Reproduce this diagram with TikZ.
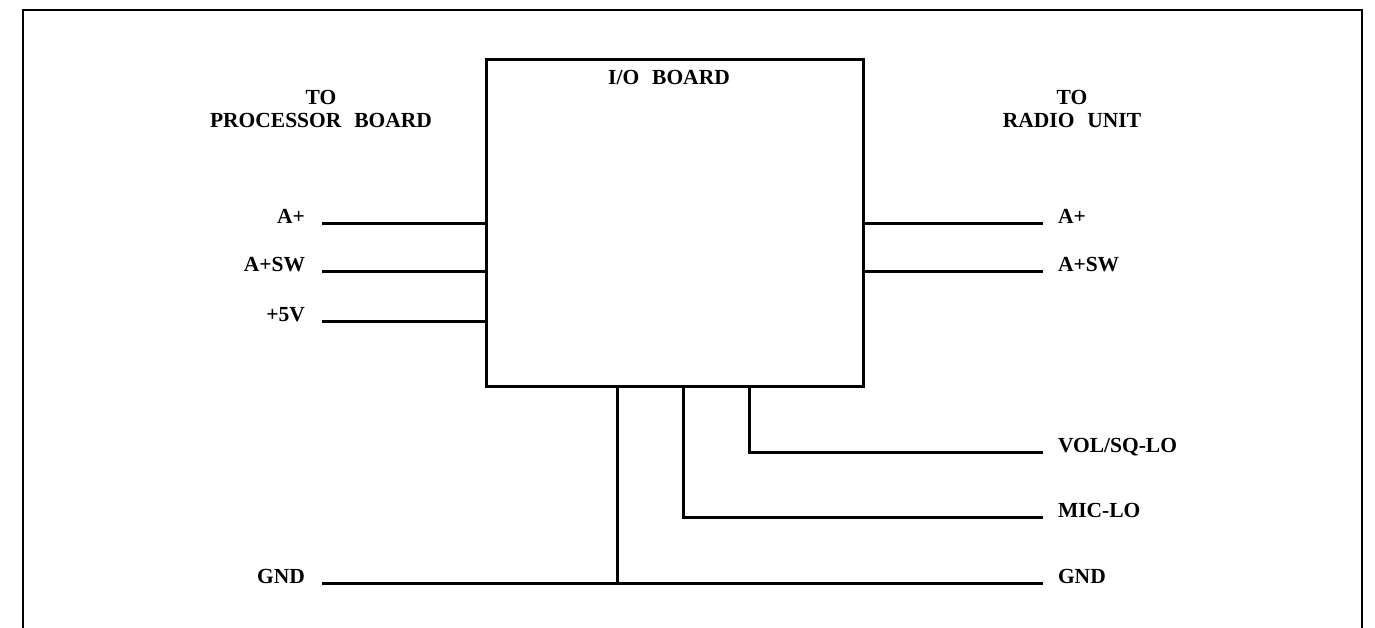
\documentclass[tikz,border=0pt]{standalone}
\usepackage{fontspec}
\setmainfont{Liberation Serif}
\begin{document}
\begin{tikzpicture}[x=1pt,y=-1pt,
  lbl/.style={font=\fontsize{21.5}{25}\selectfont\bfseries, inner sep=0pt, outer sep=0pt},
  wire/.style={line width=3pt},
  frame/.style={line width=2pt},
  board/.style={draw, line width=3pt, outer sep=0pt, inner sep=0pt, minimum width=377pt, minimum height=327pt}]
\useasboundingbox (0,0) rectangle (1375,627);
% outer frame (open at the bottom)
\draw[frame] (23,640) -- (23,10) -- (1362,10) -- (1362,640);
% board
\node[board] (io) at (674.5,222.5) {};
\node[lbl, anchor=base] (iot) at (669,84) {I/O\hspace{0.6em}BOARD};
% headings
\node[lbl, anchor=base] (pt1) at (321,104) {TO};
\node[lbl, anchor=base] (pt2) at (321,127) {PROCESSOR\hspace{0.6em}BOARD};
\node[lbl, anchor=base] (rt1) at (1072,104) {TO};
\node[lbl, anchor=base] (rt2) at (1072,127) {RADIO\hspace{0.6em}UNIT};
% left side
\coordinate (lA) at (322,223);
\coordinate (lS) at (322,271);
\coordinate (l5) at (322,321);
\coordinate (gL) at (322,583);
\node[lbl, anchor=base east] (lAt) at (305,223) {A+};
\node[lbl, anchor=base east] (lSt) at (305,271) {A+SW};
\node[lbl, anchor=base east] (l5t) at (305,321) {+5V};
\node[lbl, anchor=base east] (gLt) at (305,583) {GND};
\draw[wire] (lA) -- (lA -| io.west);
\draw[wire] (lS) -- (lS -| io.west);
\draw[wire] (l5) -- (l5 -| io.west);
% right side
\coordinate (rA) at (1043,223);
\coordinate (rS) at (1043,271);
\coordinate (vR) at (1043,452);
\coordinate (mR) at (1043,517);
\coordinate (gR) at (1043,583);
\node[lbl, anchor=base west] (rAt) at (1058,223) {A+};
\node[lbl, anchor=base west] (rSt) at (1058,271) {A+SW};
\node[lbl, anchor=base west] (vRt) at (1058,452) {VOL/SQ-LO};
\node[lbl, anchor=base west] (mRt) at (1058,517) {MIC-LO};
\node[lbl, anchor=base west] (gRt) at (1058,583) {GND};
\draw[wire] (rA -| io.east) -- (rA);
\draw[wire] (rS -| io.east) -- (rS);
% bottom connections
\coordinate (vC) at (749,452);
\coordinate (mC) at (683,517);
\coordinate (gJ) at (617,583);
\draw[wire] (vC |- io.south) -- (vC) -- (vR);
\draw[wire] (mC |- io.south) -- (mC) -- (mR);
\draw[wire] (gJ |- io.south) -- (gJ);
\draw[wire] (gL) -- (gR);
\end{tikzpicture}
\end{document}
